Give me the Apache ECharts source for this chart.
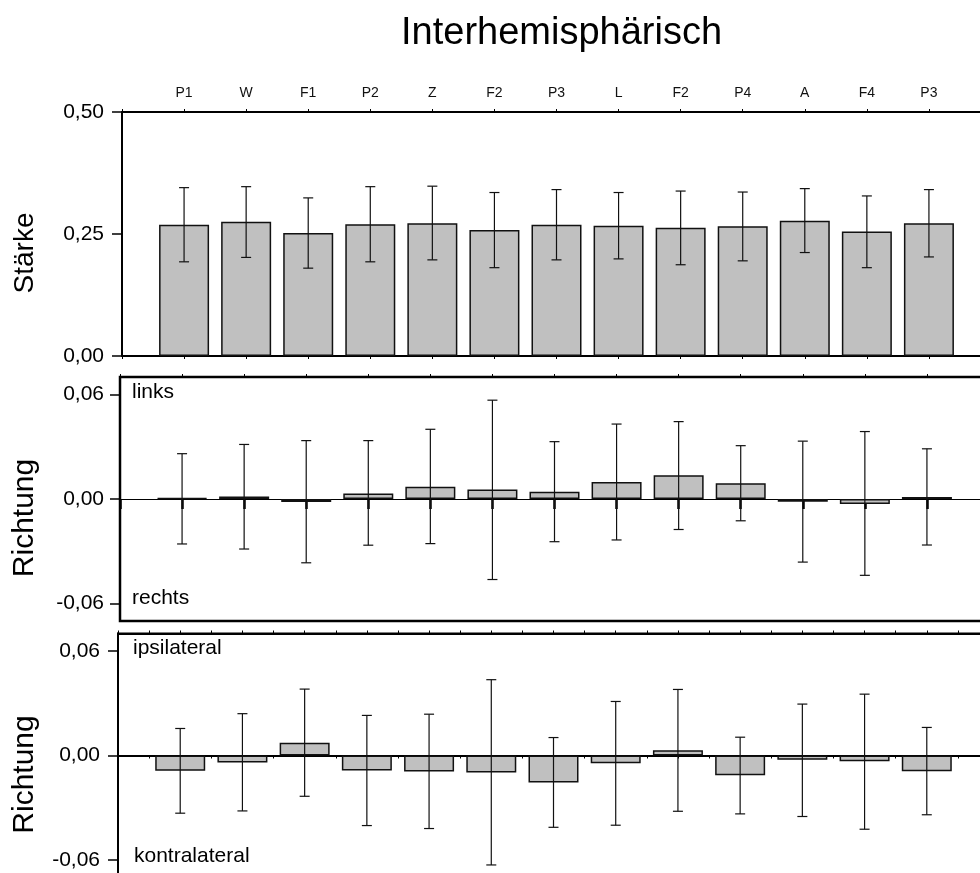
<!DOCTYPE html>
<html>
<head>
<meta charset="utf-8">
<script src="https://cdn.jsdelivr.net/npm/echarts@6/dist/echarts.min.js"></script>
<style>
  html, body { margin: 0; padding: 0; background: #fff; }
  #chart { width: 980px; height: 873px; }
</style>
</head>
<body>
<div id="chart"></div>
<script>
// Electrode / site labels along the shared x axis
const categories = ['P1', 'W', 'F1', 'P2', 'Z', 'F2', 'P3', 'L', 'F2', 'P4', 'A', 'F4', 'P3'];

// Stärke (strength): mean and error range
const staerke     = [0.269, 0.275, 0.252, 0.270, 0.272, 0.258, 0.269, 0.267, 0.263, 0.266, 0.277, 0.255, 0.272];
const staerkeLow  = [0.193, 0.202, 0.180, 0.193, 0.197, 0.181, 0.197, 0.199, 0.187, 0.195, 0.212, 0.181, 0.203];
const staerkeHigh = [0.345, 0.347, 0.324, 0.347, 0.348, 0.335, 0.341, 0.335, 0.338, 0.336, 0.343, 0.328, 0.341];

// Richtung links / rechts
const richtungLR = [0.0005, 0.0015, -0.0017, 0.0032, 0.0071, 0.0054, 0.0042, 0.0098, 0.0136, 0.0090, -0.0016, -0.0029, 0.0012];
const lrLow      = [-0.0258, -0.0287, -0.0366, -0.0265, -0.0256, -0.0462, -0.0245, -0.0235, -0.0175, -0.0125, -0.0362, -0.0438, -0.0264];
const lrHigh     = [0.0260, 0.0313, 0.0335, 0.0335, 0.0400, 0.0567, 0.0329, 0.0430, 0.0444, 0.0306, 0.0332, 0.0387, 0.0288];

// Richtung ipsilateral / kontralateral
const richtungIC = [-0.0088, -0.0040, 0.0073, -0.0086, -0.0092, -0.0098, -0.0155, -0.0044, 0.0030, -0.0113, -0.0025, -0.0033, -0.0090];
const icLow      = [-0.0331, -0.0318, -0.0234, -0.0402, -0.0419, -0.0628, -0.0412, -0.0400, -0.0320, -0.0335, -0.0350, -0.0423, -0.0340];
const icHigh     = [0.0155, 0.0240, 0.0381, 0.0230, 0.0237, 0.0435, 0.0103, 0.0310, 0.0379, 0.0105, 0.0295, 0.0352, 0.0161];

// y tick values
const staerkeTicks = [0, 0.25, 0.5];
const richtungTicks = [-0.06, 0, 0.06];

const FONT = '"Liberation Sans", Arial, Helvetica, sans-serif';
const fmt = v => v.toFixed(2).replace('.', ',');

function barData(values) {
  return values.map((v, i) => [i + 1, v]);
}
function errData(low, high) {
  return low.map((lo, i) => [i + 1, lo, high[i]]);
}

function errorBarItem(params, api) {
  const x = api.value(0);
  const lo = api.coord([x, api.value(1)]);
  const hi = api.coord([x, api.value(2)]);
  const hw = 5;
  const style = { stroke: '#111', lineWidth: 1.2 };
  return {
    type: 'group',
    children: [
      { type: 'line', shape: { x1: lo[0], y1: lo[1], x2: hi[0], y2: hi[1] }, style },
      { type: 'line', shape: { x1: lo[0] - hw, y1: lo[1], x2: lo[0] + hw, y2: lo[1] }, style },
      { type: 'line', shape: { x1: hi[0] - hw, y1: hi[1], x2: hi[0] + hw, y2: hi[1] }, style }
    ]
  };
}

function barSeries(idx, values) {
  return {
    type: 'bar',
    xAxisIndex: idx * 2 + 1,
    yAxisIndex: idx,
    data: barData(values),
    barWidth: 50,
    itemStyle: { color: '#c0c0c0', borderColor: '#111', borderWidth: 1.5 },
    silent: true,
    z: 3
  };
}
function errSeries(idx, low, high) {
  return {
    type: 'custom',
    xAxisIndex: idx * 2 + 1,
    yAxisIndex: idx,
    data: errData(low, high),
    encode: { x: 0, y: [1, 2] },
    renderItem: errorBarItem,
    silent: true,
    z: 5
  };
}

function xAxisPair(gridIndex, opts) {
  const base = { type: 'value', gridIndex, min: 0, max: 14, splitLine: { show: false } };
  return [
    Object.assign({}, base, {
      position: 'top',
      interval: opts.topInterval,
      axisLine: { onZero: false, lineStyle: { color: '#000', width: 2 } },
      axisTick: { show: true, inside: false, length: 3, lineStyle: { color: '#000', width: 1 } },
      axisLabel: opts.topLabels
        ? { show: true, margin: 12, fontSize: 14, color: '#111', fontFamily: FONT,
            formatter: v => categories[v - 1] || '' }
        : { show: false }
    }),
    Object.assign({}, base, {
      position: 'bottom',
      interval: opts.bottomInterval,
      axisLine: { onZero: opts.onZero, lineStyle: { color: '#000', width: opts.zeroWidth } },
      axisTick: { show: true, inside: false, length: opts.tickLen, lineStyle: { color: '#000', width: opts.tickWidth } },
      axisLabel: { show: false }
    })
  ];
}

function yAxis(gridIndex, min, max, ticks, name, nameSize, nameGap, labelMargin) {
  return {
    type: 'value', gridIndex, min, max,
    axisLine: { show: true, onZero: false, lineStyle: { color: '#000', width: 2 } },
    axisTick: { show: true, inside: false, length: 10, customValues: ticks, lineStyle: { color: '#000', width: 1.5 } },
    axisLabel: { show: true, customValues: ticks, formatter: fmt, fontSize: 21, color: '#000', fontFamily: FONT, margin: labelMargin },
    splitLine: { show: false },
    name,
    nameLocation: 'middle',
    nameGap,
    nameTextStyle: { fontSize: nameSize, color: '#000', fontFamily: FONT, padding: [0, 38, 0, 0] }
  };
}

function note(text, x, y) {
  return {
    type: 'text',
    style: { text, x, y, font: '21px ' + FONT, fill: '#000', align: 'left', verticalAlign: 'middle' },
    z: 10
  };
}

const chart = echarts.init(document.getElementById('chart'), null, { renderer: 'canvas' });

const gridBase = { outerBoundsMode: 'none', containLabel: false, backgroundColor: 'transparent' };

chart.setOption({
  animation: false,
  backgroundColor: '#fff',
  title: {
    text: 'Interhemisphärisch',
    left: 401, top: 15, padding: 0,
    textStyle: { fontSize: 38, fontWeight: 'normal', color: '#000', fontFamily: FONT }
  },
  grid: [
    Object.assign({}, gridBase, { left: 122, width: 869, top: 112, height: 244, show: false }),
    Object.assign({}, gridBase, { left: 120, width: 869, top: 377, height: 244, show: true, borderColor: '#000', borderWidth: 2.5 }),
    Object.assign({}, gridBase, { left: 118, width: 871, top: 633.5, height: 244, show: true, borderColor: '#000', borderWidth: 2 })
  ],
  xAxis: [
    ...xAxisPair(0, { topInterval: 1, topLabels: true, bottomInterval: 1, onZero: false, zeroWidth: 2, tickLen: 3, tickWidth: 1 }),
    ...xAxisPair(1, { topInterval: 1, topLabels: false, bottomInterval: 1, onZero: true, zeroWidth: 1.2, tickLen: 10, tickWidth: 2.5 }),
    ...xAxisPair(2, { topInterval: 0.5, topLabels: false, bottomInterval: 0.5, onZero: true, zeroWidth: 2, tickLen: 3, tickWidth: 1 })
  ],
  yAxis: [
    yAxis(0, 0, 0.5, staerkeTicks, 'Stärke', 28, 83, 18),
    yAxis(1, -0.07, 0.07, richtungTicks, 'Richtung', 30, 80, 16),
    yAxis(2, -0.07, 0.07, richtungTicks, 'Richtung', 30, 78, 18)
  ],
  series: [
    barSeries(0, staerke), errSeries(0, staerkeLow, staerkeHigh),
    barSeries(1, richtungLR), errSeries(1, lrLow, lrHigh),
    barSeries(2, richtungIC), errSeries(2, icLow, icHigh)
  ],
  graphic: [
    note('links', 132, 392),
    note('rechts', 132, 598),
    note('ipsilateral', 133, 648),
    note('kontralateral', 134, 856)
  ]
});
</script>
</body>
</html>
